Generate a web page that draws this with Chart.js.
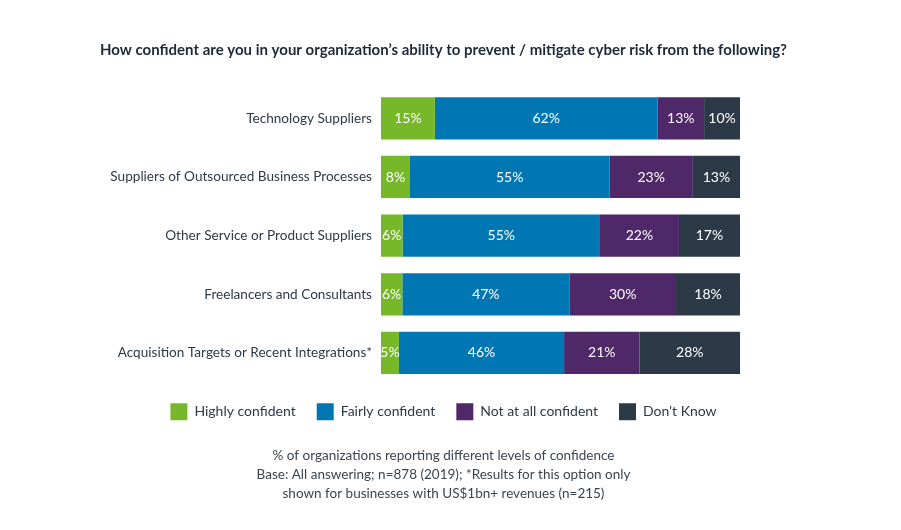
<!DOCTYPE html>
<html>
<head>
<meta charset="utf-8">
<script src="https://cdn.jsdelivr.net/npm/chart.js@4"></script>
<style>
  html, body { margin: 0; padding: 0; background: #ffffff; }
  #wrap { width: 901px; height: 530px; }
</style>
</head>
<body>
<div id="wrap"><canvas id="chart" width="901" height="530"></canvas></div>
<script>
var categories = [
  'Technology Suppliers',
  'Suppliers of Outsourced Business Processes',
  'Other Service or Product Suppliers',
  'Freelancers and Consultants',
  'Acquisition Targets or Recent Integrations*'
];
var seriesNames = ['Highly confident', 'Fairly confident', 'Not at all confident', 'Don\u2019t Know'];
var highlyConfident = [15, 8, 6, 6, 5];
var fairlyConfident = [62, 55, 55, 47, 46];
var notAtAllConfident = [13, 23, 22, 30, 21];
var dontKnow = [10, 13, 17, 18, 28];
var colors = ['#77b82a', '#0077b3', '#4e2868', '#2c3a47'];

var titleText = 'How confident are you in your organization\u2019s ability to prevent / mitigate cyber risk from the following?';
var footnoteLines = [
  '% of organizations reporting different levels of confidence',
  'Base: All answering; n=878 (2019); *Results for this option only',
  'shown for businesses with US$1bn+ revenues (n=215)'
];

var FONT = 'Lato, "Open Sans", sans-serif';
var series = [highlyConfident, fairlyConfident, notAtAllConfident, dontKnow];

// rows do not always add up to exactly 100, the bars are drawn full width
var rowTotals = categories.map(function(c, i) {
  return series.reduce(function(s, arr) { return s + arr[i]; }, 0);
});

var datasets = series.map(function(arr, k) {
  return {
    label: seriesNames[k],
    data: arr.map(function(v, i) { return v / rowTotals[i] * 100; }),
    shown: arr,
    backgroundColor: colors[k],
    borderWidth: 0,
    barPercentage: 0.72,
    categoryPercentage: 1
  };
});

var valueLabels = {
  id: 'valueLabels',
  afterDatasetsDraw: function(chart) {
    var ctx = chart.ctx;
    ctx.save();
    ctx.font = '14px ' + FONT;
    ctx.fillStyle = '#ffffff';
    ctx.textAlign = 'center';
    ctx.textBaseline = 'middle';
    chart.data.datasets.forEach(function(ds, k) {
      var meta = chart.getDatasetMeta(k);
      meta.data.forEach(function(bar, i) {
        ctx.fillText(ds.shown[i] + '%', (bar.x + bar.base) / 2, bar.y);
      });
    });
    ctx.restore();
  }
};

chart = new Chart(document.getElementById('chart'), {
  type: 'bar',
  data: { labels: categories, datasets: datasets },
  plugins: [valueLabels],
  options: {
    indexAxis: 'y',
    responsive: false,
    animation: false,
    layout: { padding: { left: 0, right: 14, top: 0, bottom: 0 } },
    scales: {
      x: {
        stacked: true,
        min: 0,
        max: 100,
        display: false
      },
      y: {
        stacked: true,
        grid: { display: false },
        border: { display: false },
        ticks: {
          padding: 1,
          color: '#2d3a47',
          font: { family: FONT, size: 13.6 }
        },
        afterFit: function(scale) { scale.width = 381; }
      },
      y2: {
        type: 'category',
        labels: categories,
        position: 'right',
        grid: { display: false },
        border: { display: false },
        ticks: { display: false },
        afterFit: function(scale) { scale.width = 147; }
      }
    },
    plugins: {
      tooltip: { enabled: false },
      title: {
        display: true,
        text: titleText,
        color: '#1e2a38',
        font: { family: FONT, size: 15, weight: 'bold', lineHeight: 1.2 },
        padding: { top: 41, bottom: 30 }
      },
      legend: {
        position: 'bottom',
        labels: {
          boxWidth: 17,
          boxHeight: 17,
          padding: 21,
          color: '#2d3a47',
          font: { family: FONT, size: 14 }
        }
      },
      subtitle: {
        display: true,
        position: 'bottom',
        text: footnoteLines,
        color: '#3a4550',
        font: { family: FONT, size: 13.5, lineHeight: 1.4 },
        padding: { top: 16, bottom: 27 }
      }
    }
  }
});
</script>
</body>
</html>
